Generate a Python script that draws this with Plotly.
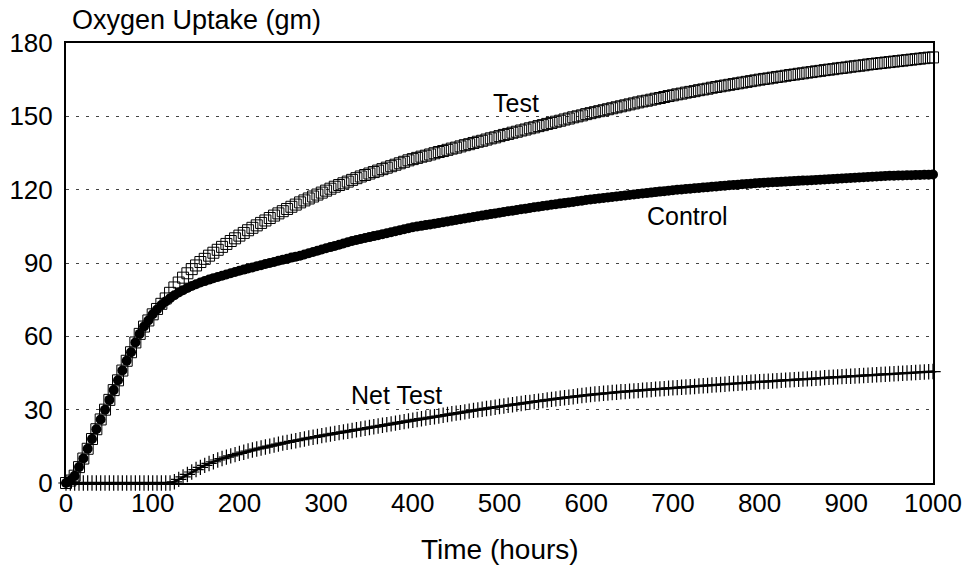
import plotly.graph_objects as go

# Time axis (hours), sampled every 5 hours
time_hours = list(range(0, 1001, 5))

control = [
    0, 1, 3, 6.5, 10, 14, 18, 22, 26, 30, 34, 38, 42, 46, 50, 53.5, 57.5, 61, 64, 66.5,
    69, 71, 72.8, 74.3, 75.6, 76.8, 77.9, 78.9, 79.8, 80.6, 81.3, 82, 82.6, 83.2, 83.8, 84.3, 84.8, 85.3, 85.8, 86.3,
    86.8, 87.3, 87.8, 88.2, 88.7, 89.1, 89.6, 90, 90.4, 90.9, 91.3, 91.7, 92.2, 92.6, 93, 93.5, 94, 94.5, 95, 95.5,
    96, 96.5, 97, 97.5, 98, 98.5, 99, 99.4, 99.8, 100.2, 100.6, 101, 101.4, 101.8, 102.2, 102.6, 103, 103.4, 103.8, 104.2,
    104.6, 104.9, 105.2, 105.5, 105.8, 106.1, 106.4, 106.7, 107, 107.3, 107.6, 107.9, 108.2, 108.5, 108.8, 109.1, 109.4, 109.7, 110, 110.3,
    110.6, 110.9, 111.2, 111.4, 111.7, 112, 112.2, 112.5, 112.8, 113, 113.3, 113.5, 113.8, 114, 114.3, 114.5, 114.8, 115, 115.3, 115.5,
    115.8, 116, 116.2, 116.4, 116.6, 116.8, 117, 117.2, 117.4, 117.6, 117.8, 118, 118.2, 118.4, 118.6, 118.8, 119, 119.2, 119.4, 119.6,
    119.8, 120, 120.1, 120.3, 120.4, 120.6, 120.7, 120.9, 121, 121.2, 121.3, 121.5, 121.6, 121.8, 121.9, 122, 122.2, 122.3, 122.4, 122.6,
    122.7, 122.8, 122.9, 123, 123.1, 123.2, 123.3, 123.4, 123.5, 123.6, 123.7, 123.8, 123.9, 124, 124.1, 124.2, 124.3, 124.4, 124.5, 124.6,
    124.7, 124.8, 124.9, 125, 125.1, 125.2, 125.3, 125.4, 125.5, 125.6, 125.7, 125.7, 125.8, 125.8, 125.9, 125.9, 126, 126, 126.1, 126.1,
    126.2,
]

test = [
    0, 1, 3, 6.5, 10, 14, 18, 22, 26, 30, 34, 38, 42, 46, 50, 53.5, 57.5, 61, 64, 66.5,
    69, 71.2, 73.3, 75.5, 77.8, 80, 82, 84, 85.8, 87.5, 89, 90.4, 91.7, 93, 94.2, 95.4, 96.6, 97.8, 99, 100.1,
    101.2, 102.3, 103.4, 104.4, 105.4, 106.4, 107.4, 108.4, 109.4, 110.3, 111.2, 112.1, 113, 113.9, 114.8, 115.6, 116.4, 117.2, 118, 118.8,
    119.6, 120.4, 121.2, 121.9, 122.6, 123.3, 124, 124.7, 125.4, 126, 126.6, 127.2, 127.8, 128.4, 129, 129.6, 130.2, 130.8, 131.4, 132,
    132.5, 133, 133.5, 133.9, 134.4, 134.9, 135.4, 135.8, 136.3, 136.8, 137.2, 137.7, 138.2, 138.6, 139.1, 139.6, 140, 140.5, 141, 141.4,
    141.9, 142.4, 142.8, 143.3, 143.7, 144.2, 144.6, 145.1, 145.5, 146, 146.4, 146.9, 147.3, 147.8, 148.2, 148.7, 149.1, 149.6, 150, 150.4,
    150.9, 151.3, 151.7, 152.1, 152.5, 152.9, 153.3, 153.7, 154.1, 154.5, 154.9, 155.3, 155.7, 156.1, 156.4, 156.8, 157.2, 157.5, 157.9, 158.3,
    158.6, 159, 159.3, 159.7, 160, 160.3, 160.7, 161, 161.3, 161.7, 162, 162.3, 162.6, 162.9, 163.2, 163.5, 163.8, 164.1, 164.4, 164.7,
    165, 165.3, 165.5, 165.8, 166.1, 166.3, 166.6, 166.9, 167.1, 167.4, 167.6, 167.9, 168.1, 168.4, 168.6, 168.9, 169.1, 169.3, 169.6, 169.8,
    170, 170.3, 170.5, 170.7, 170.9, 171.2, 171.4, 171.6, 171.8, 172, 172.2, 172.4, 172.6, 172.8, 173, 173.2, 173.4, 173.6, 173.8, 174,
    174.1,
]

net_test = [
    0, 0, 0, 0, 0, 0, 0, 0, 0, 0, 0, 0, 0, 0, 0, 0, 0, 0, 0, 0,
    0, 0, 0, 0, 0, 0.5, 1.5, 2.5, 3.5, 4.5, 5.5, 6.4, 7.2, 8, 8.7, 9.4, 10, 10.6, 11.1, 11.6,
    12.1, 12.6, 13.1, 13.5, 13.9, 14.3, 14.7, 15.1, 15.5, 15.9, 16.3, 16.6, 17, 17.3, 17.7, 18, 18.4, 18.7, 19, 19.4,
    19.7, 20, 20.3, 20.6, 20.9, 21.2, 21.5, 21.8, 22.1, 22.4, 22.7, 23, 23.3, 23.6, 23.9, 24.2, 24.5, 24.8, 25.1, 25.4,
    25.7, 26, 26.3, 26.6, 26.9, 27.1, 27.4, 27.7, 28, 28.3, 28.6, 28.8, 29.1, 29.4, 29.7, 29.9, 30.2, 30.5, 30.7, 31,
    31.3, 31.5, 31.8, 32, 32.3, 32.5, 32.8, 33, 33.3, 33.5, 33.7, 34, 34.2, 34.4, 34.7, 34.9, 35.1, 35.3, 35.6, 35.8,
    36, 36.2, 36.4, 36.5, 36.7, 36.8, 37, 37.1, 37.3, 37.4, 37.6, 37.7, 37.8, 38, 38.1, 38.2, 38.4, 38.5, 38.6, 38.8,
    38.9, 39, 39.2, 39.3, 39.4, 39.5, 39.7, 39.8, 39.9, 40.1, 40.2, 40.3, 40.4, 40.6, 40.7, 40.8, 40.9, 41, 41.2, 41.3,
    41.4, 41.5, 41.6, 41.7, 41.8, 42, 42.1, 42.2, 42.3, 42.4, 42.5, 42.6, 42.7, 42.8, 42.9, 43.1, 43.2, 43.3, 43.4, 43.5,
    43.6, 43.7, 43.8, 43.9, 44, 44.1, 44.2, 44.3, 44.4, 44.5, 44.6, 44.7, 44.8, 44.9, 45, 45.1, 45.2, 45.3, 45.4, 45.5,
    45.6,
]

x_ticks = [0, 100, 200, 300, 400, 500, 600, 700, 800, 900, 1000]
y_ticks = [0, 30, 60, 90, 120, 150, 180]

series_labels = ["Test", "Control", "Net Test"]
label_pos = [(519, 155.5), (717, 109.3), (381, 35.8)]

FONT = "Liberation Sans, Arial, Helvetica, sans-serif"

fig = go.Figure()

fig.add_trace(go.Scatter(
    x=time_hours, y=test, mode="markers", name="Test", cliponaxis=False,
    marker=dict(symbol="square-open", size=11, color="black", line=dict(width=1, color="black")),
))
fig.add_trace(go.Scatter(
    x=time_hours, y=control, mode="markers", name="Control", cliponaxis=False,
    marker=dict(symbol="circle", size=10, color="black", line=dict(width=0)),
))
fig.add_trace(go.Scatter(
    x=time_hours, y=net_test, mode="lines+markers", name="Net Test", cliponaxis=False,
    line=dict(color="black", width=2.5),
    marker=dict(symbol="cross-thin", size=11, color="black", line=dict(width=1.2, color="black")),
))

for text, (lx, ly) in zip(series_labels, label_pos):
    fig.add_annotation(x=lx, y=ly, text=text, showarrow=False,
                       font=dict(family=FONT, size=25, color="black"),
                       xanchor="center", yanchor="middle")

fig.add_annotation(xref="paper", yref="paper", x=0.005, y=1.052, text="Oxygen Uptake (gm)",
                   showarrow=False, xanchor="left", yanchor="middle",
                   font=dict(family=FONT, size=27, color="black"))
fig.add_annotation(xref="paper", yref="paper", x=0.5, y=-0.15, text="Time (hours)",
                   showarrow=False, xanchor="center", yanchor="middle",
                   font=dict(family=FONT, size=28, color="black"))

fig.update_layout(
    width=967, height=567,
    margin=dict(l=66, r=34, t=43, b=84, autoexpand=False),
    paper_bgcolor="white", plot_bgcolor="white",
    showlegend=False,
    font=dict(family=FONT, size=26, color="black"),
)
fig.update_xaxes(
    range=[0, 1000], tickvals=x_ticks, ticktext=[str(v) for v in x_ticks], automargin=False,
    showgrid=False, zeroline=False, showline=True, linecolor="black", linewidth=2, mirror=True,
    ticks="", ticklabelstandoff=-4, tickfont=dict(family=FONT, size=26, color="black"),
)
fig.update_yaxes(
    range=[0, 180], tickvals=y_ticks, ticktext=[str(v) for v in y_ticks], automargin=False,
    showgrid=True, gridcolor="#444", gridwidth=1, griddash="3px,7px",
    zeroline=False, showline=True, linecolor="black", linewidth=2, mirror=True,
    ticks="", ticklabelstandoff=6, tickfont=dict(family=FONT, size=26, color="black"),
)

fig.write_html("out.html", config={"displayModeBar": False},
               post_script="document.body.style.margin='0px';")
